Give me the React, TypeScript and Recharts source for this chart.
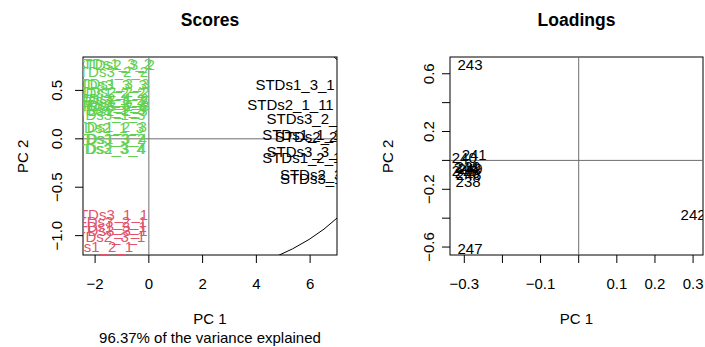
import React from 'react';
import { ScatterChart, Scatter, XAxis, YAxis, ReferenceLine, ReferenceArea } from 'recharts';

const FONT = '"Liberation Sans", Arial, Helvetica, sans-serif';

// ---------- Scores (PC1 / PC2) ----------
const scoresBlack = [
  { label: 'STDs1_3_1', pc1: 5.44, pc2: 0.564 },
  { label: 'STDs2_1_11', pc1: 5.27, pc2: 0.357 },
  { label: 'STDs3_2_1', pc1: 5.85, pc2: 0.21 },
  { label: 'STDs1_1_1', pc1: 5.69, pc2: 0.048 },
  { label: 'STDs2_2_1', pc1: 6.16, pc2: 0.02 },
  { label: 'STDs3_3_1', pc1: 5.85, pc2: -0.134 },
  { label: 'STDs1_2_1', pc1: 5.69, pc2: -0.19 },
  { label: 'STDs2_3_1', pc1: 6.35, pc2: -0.367 },
  { label: 'STDs3_1_1', pc1: 6.35, pc2: -0.41 },
];

const scoresGreen = [
  { label: 'STDs1_3_2', pc1: -1.35, pc2: 0.78 },
  { label: 'STDs2_3_2', pc1: -1.25, pc2: 0.77 },
  { label: 'STDs3_2_2', pc1: -1.5, pc2: 0.69 },
  { label: 'STDs1_3_3', pc1: -1.45, pc2: 0.575 },
  { label: 'STDs3_3_3', pc1: -1.55, pc2: 0.56 },
  { label: 'STDs2_2_2', pc1: -1.45, pc2: 0.49 },
  { label: 'STDs1_2_2', pc1: -1.6, pc2: 0.48 },
  { label: 'STDs2_1_2', pc1: -1.48, pc2: 0.42 },
  { label: 'STDs3_1_2', pc1: -1.62, pc2: 0.41 },
  { label: 'STDs1_1_2', pc1: -1.5, pc2: 0.38 },
  { label: 'STDs2_3_3', pc1: -1.55, pc2: 0.35 },
  { label: 'STDs3_2_3', pc1: -1.45, pc2: 0.34 },
  { label: 'STDs1_1_3', pc1: -1.6, pc2: 0.3 },
  { label: 'STDs2_2_3', pc1: -1.52, pc2: 0.29 },
  { label: 'STDs3_1_3', pc1: -1.6, pc2: 0.245 },
  { label: 'STDs1_2_3', pc1: -1.55, pc2: 0.125 },
  { label: 'STDs2_1_3', pc1: -1.65, pc2: 0.12 },
  { label: 'STDs1_3_4', pc1: -1.55, pc2: 0.005 },
  { label: 'STDs3_3_2', pc1: -1.6, pc2: 0.0 },
  { label: 'STDs3_3_4', pc1: -1.62, pc2: -0.1 },
  { label: 'STDs2_3_4', pc1: -1.58, pc2: -0.1 },
];

const scoresRed = [
  { label: 'STDs3_1_1', pc1: -1.5, pc2: -0.78 },
  { label: 'STDs3_2_1', pc1: -1.55, pc2: -0.86 },
  { label: 'STDs1_3_1', pc1: -1.55, pc2: -0.91 },
  { label: 'STDs3_3_1', pc1: -1.52, pc2: -0.95 },
  { label: 'STDs2_3_1', pc1: -1.6, pc2: -1.01 },
  { label: 'STDs1_2_1', pc1: -2.06, pc2: -1.11 },
];

const scoreXDomain = [-2.45, 7.0];
const scoreYDomain = [-1.2, 0.845];
const scoreXTicks = [-2, 0, 2, 4, 6];
const scoreXTickLabels = ['−2', '0', '2', '4', '6'];
const scoreYTicks = [-1.0, -0.5, 0.0, 0.5];
const scoreYTickLabels = ['−1.0', '−0.5', '0.0', '0.5'];
// semi-axes of the confidence ellipse (PC1, PC2)
const scoreEllipse = [8.43, 1.47];

// ---------- Loadings ----------
const loadings = [
  { label: '243', pc1: -0.285, pc2: 0.662 },
  { label: '247', pc1: -0.285, pc2: -0.611 },
  { label: '242', pc1: 0.3, pc2: -0.376 },
  { label: '241', pc1: -0.274, pc2: 0.04 },
  { label: '240', pc1: -0.3, pc2: 0.02 },
  { label: '239', pc1: -0.29, pc2: -0.04 },
  { label: '244', pc1: -0.295, pc2: -0.05 },
  { label: '249', pc1: -0.285, pc2: -0.06 },
  { label: '245', pc1: -0.3, pc2: -0.07 },
  { label: '246', pc1: -0.292, pc2: -0.085 },
  { label: '248', pc1: -0.288, pc2: -0.1 },
  { label: '238', pc1: -0.29, pc2: -0.145 },
];

const loadXDomain = [-0.3375, 0.326];
const loadYDomain = [-0.655, 0.716];
const loadXTicks = [-0.3, -0.2, -0.1, 0, 0.1, 0.2, 0.3];
const loadXTickLabels = ['−0.3', '', '−0.1', '', '0.1', '0.2', '0.3'];
const loadYTicks = [-0.6, -0.4, -0.2, 0, 0.2, 0.4, 0.6];
const loadYTickLabels = ['−0.6', '', '−0.2', '', '0.2', '', '0.6'];

const COLORS = { black: '#000000', red: '#DF536B', green: '#61D04F', axis: '#6E6E6E' };

const labelShape = (color: string, clipId: string) => (props: any) => (
  <text
    x={props.cx}
    y={props.cy}
    dy="0.36em"
    textAnchor="middle"
    fill={color}
    fontSize={15}
    fontFamily={FONT}
    clipPath={`url(#${clipId})`}
  >
    {props.payload.label}
  </text>
);

const makeXTick = (ticks: number[], labels: string[]) => (props: any) => {
  const { x, y, payload } = props;
  const i = ticks.findIndex((t) => Math.abs(t - payload.value) < 1e-9);
  const txt = i >= 0 ? labels[i] : '';
  return (
    <text x={x} y={y + 26} textAnchor="middle" fontSize={15} fontFamily={FONT} fill="#000">
      {txt}
    </text>
  );
};

const makeYTick = (ticks: number[], labels: string[], off: number) => (props: any) => {
  const { x, y, payload } = props;
  const i = ticks.findIndex((t) => Math.abs(t - payload.value) < 1e-9);
  const txt = i >= 0 ? labels[i] : '';
  const bx = x - off;
  return (
    <text
      x={bx}
      y={y}
      transform={`rotate(-90, ${bx}, ${y})`}
      textAnchor="middle"
      fontSize={15}
      fontFamily={FONT}
      fill="#000"
    >
      {txt}
    </text>
  );
};

// plot box; also defines a clip path equal to the plot region
const makeBoxShape = (clipId: string) => (props: any) => (
  <g>
    <defs>
      <clipPath id={clipId} clipPathUnits="userSpaceOnUse">
        <rect x={props.x} y={props.y} width={props.width} height={props.height} />
      </clipPath>
    </defs>
    <rect x={props.x} y={props.y} width={props.width} height={props.height} fill="none" stroke="#000" strokeWidth={1} />
  </g>
);

const makeEllipseShape = (clipId: string) => (props: any) => (
  <ellipse
    cx={props.x + props.width / 2}
    cy={props.y + props.height / 2}
    rx={Math.abs(props.width / 2)}
    ry={Math.abs(props.height / 2)}
    fill="none"
    stroke="#000"
    strokeWidth={1}
    clipPath={`url(#${clipId})`}
  />
);

export default function App() {
  return (
    <div style={{ position: 'fixed', left: 0, top: 0, width: 705, height: 347, background: '#fff', fontFamily: FONT }}>
      <div style={{ position: 'absolute', left: 0, top: 0 }}>
        <ScatterChart width={352} height={347} margin={{ top: 57, right: 15, bottom: 0, left: 0 }}>
          <XAxis
            type="number"
            dataKey="pc1"
            domain={scoreXDomain}
            allowDataOverflow
            ticks={scoreXTicks}
            interval={0}
            tick={makeXTick(scoreXTicks, scoreXTickLabels)}
            tickLine={{ stroke: '#000' }}
            tickSize={8}
            tickMargin={0}
            axisLine={false}
            height={92}
          />
          <YAxis
            type="number"
            dataKey="pc2"
            domain={scoreYDomain}
            allowDataOverflow
            ticks={scoreYTicks}
            interval={0}
            tick={makeYTick(scoreYTicks, scoreYTickLabels, 13)}
            tickLine={{ stroke: '#000' }}
            tickSize={8}
            tickMargin={0}
            axisLine={false}
            width={83}
          />
          <ReferenceLine x={0} stroke={COLORS.axis} strokeWidth={1} />
          <ReferenceLine y={0} stroke={COLORS.axis} strokeWidth={1} />
          <ReferenceArea
            x1={-scoreEllipse[0]}
            x2={scoreEllipse[0]}
            y1={-scoreEllipse[1]}
            y2={scoreEllipse[1]}
            ifOverflow="visible"
            shape={makeEllipseShape('scoresClip')}
          />
          <Scatter data={scoresGreen} isAnimationActive={false} shape={labelShape(COLORS.green, 'scoresClip')} />
          <Scatter data={scoresRed} isAnimationActive={false} shape={labelShape(COLORS.red, 'scoresClip')} />
          <Scatter data={scoresBlack} isAnimationActive={false} shape={labelShape(COLORS.black, 'scoresClip')} />
          <ReferenceArea
            x1={scoreXDomain[0]}
            x2={scoreXDomain[1]}
            y1={scoreYDomain[0]}
            y2={scoreYDomain[1]}
            ifOverflow="visible"
            shape={makeBoxShape('scoresClip')}
          />
        </ScatterChart>
      </div>
      <div style={{ position: 'absolute', left: 352, top: 0 }}>
        <ScatterChart width={353} height={347} margin={{ top: 57, right: 2, bottom: 0, left: 0 }}>
          <XAxis
            type="number"
            dataKey="pc1"
            domain={loadXDomain}
            allowDataOverflow
            ticks={loadXTicks}
            interval={0}
            tick={makeXTick(loadXTicks, loadXTickLabels)}
            tickLine={{ stroke: '#000' }}
            tickSize={8}
            tickMargin={0}
            axisLine={false}
            height={92}
          />
          <YAxis
            type="number"
            dataKey="pc2"
            domain={loadYDomain}
            allowDataOverflow
            ticks={loadYTicks}
            interval={0}
            tick={makeYTick(loadYTicks, loadYTickLabels, 8)}
            tickLine={{ stroke: '#000' }}
            tickSize={8}
            tickMargin={0}
            axisLine={false}
            width={98}
          />
          <ReferenceLine x={0} stroke={COLORS.axis} strokeWidth={1} />
          <ReferenceLine y={0} stroke={COLORS.axis} strokeWidth={1} />
          <Scatter data={loadings} isAnimationActive={false} shape={labelShape(COLORS.black, 'loadClip')} />
          <ReferenceArea
            x1={loadXDomain[0]}
            x2={loadXDomain[1]}
            y1={loadYDomain[0]}
            y2={loadYDomain[1]}
            ifOverflow="visible"
            shape={makeBoxShape('loadClip')}
          />
        </ScatterChart>
      </div>
      <svg width={705} height={347} style={{ position: 'absolute', left: 0, top: 0, pointerEvents: 'none' }}>
        <g fontFamily={FONT} fill="#000">
          <text x={210} y={26} textAnchor="middle" fontSize={17.5} fontWeight="bold">Scores</text>
          <text x={576.5} y={26} textAnchor="middle" fontSize={17.5} fontWeight="bold">Loadings</text>
          <text x={210} y={324} textAnchor="middle" fontSize={15}>PC 1</text>
          <text x={210} y={343} textAnchor="middle" fontSize={15}>96.37% of the variance explained</text>
          <text x={576.5} y={324} textAnchor="middle" fontSize={15}>PC 1</text>
          <text x={28.3} y={156.3} transform="rotate(-90, 28.3, 156.3)" textAnchor="middle" fontSize={15}>PC 2</text>
          <text x={392.7} y={156.3} transform="rotate(-90, 392.7, 156.3)" textAnchor="middle" fontSize={15}>PC 2</text>
        </g>
      </svg>
    </div>
  );
}
